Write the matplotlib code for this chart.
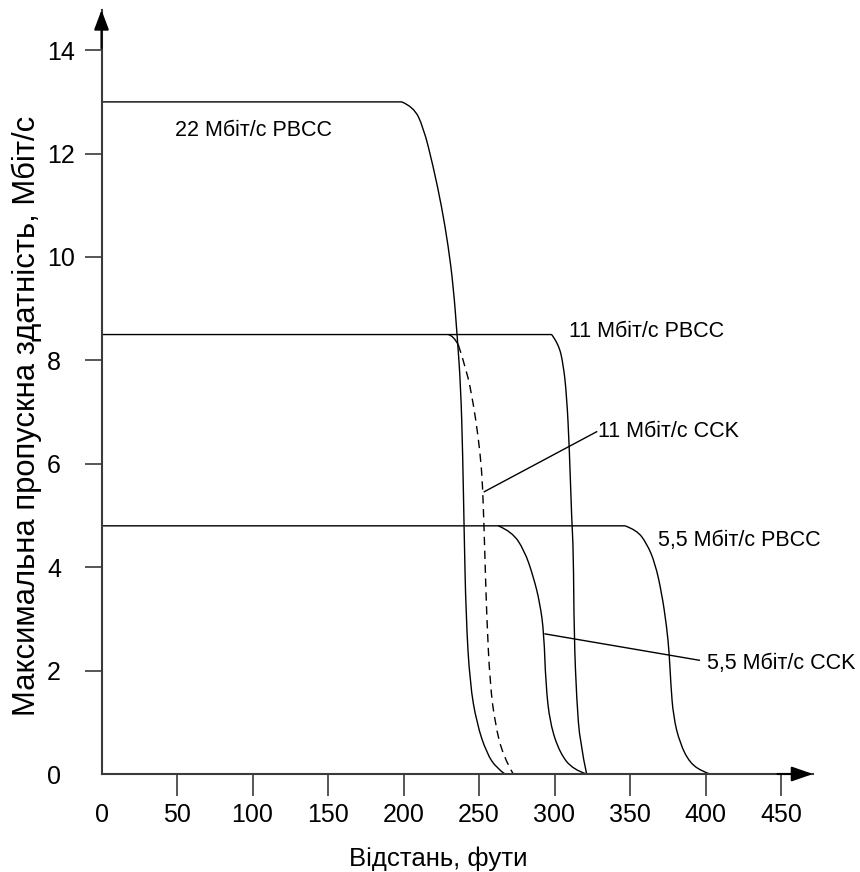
import matplotlib
matplotlib.use("Agg")
import matplotlib.pyplot as plt
from matplotlib.path import Path
from matplotlib.patches import PathPatch

plt.rcParams['font.family'] = ['Liberation Sans', 'DejaVu Sans']

# ---- data ----
x_ticks = [0, 50, 100, 150, 200, 250, 300, 350, 400, 450]
y_ticks = [0, 2, 4, 6, 8, 10, 12, 14]

pbcc22_x = [0, 198.8, 206.5, 213.1, 219.7, 225.3, 229.7, 233.0, 235.6, 237.9, 239.2, 240.1,
            241.4, 244.0, 248.5, 255.1, 261.7, 267.2]
pbcc22_y = [13.0, 13.0, 12.91, 12.52, 11.75, 10.97, 10.20, 9.43, 8.46, 7.49, 6.20, 4.78,
            3.04, 1.75, 0.98, 0.40, 0.11, 0.0]

pbcc11_x = [0, 298.1, 302.5, 305.8, 308.1, 309.8, 311.4, 312.5, 313.0, 314.7, 316.9, 321.3]
pbcc11_y = [8.5, 8.5, 8.33, 7.94, 7.30, 6.33, 4.91, 4.33, 2.66, 1.43, 0.59, 0.0]

cck11_x = [229.7, 233.0, 236.3, 241.9, 246.2, 249.5, 251.8, 252.8, 253.8, 255.1, 257.3, 260.6,
           266.1, 272.7]
cck11_y = [8.5, 8.48, 8.30, 7.81, 7.17, 6.52, 5.88, 5.24, 4.33, 3.04, 1.75, 0.98, 0.33, 0.0]

pbcc55_x = [0, 346.7, 354.4, 361.1, 366.6, 371.0, 374.3, 376.0, 377.0, 378.7, 383.1, 389.7,
            398.5, 403.0]
pbcc55_y = [4.8, 4.8, 4.72, 4.46, 4.08, 3.50, 2.85, 2.33, 1.75, 1.11, 0.59, 0.21, 0.04, 0.0]

cck55_x = [262.8, 271.7, 280.0, 286.0, 290.4, 293.0, 294.2, 297.0, 303.6, 312.5, 321.3]
cck55_y = [4.8, 4.69, 4.33, 3.82, 3.30, 2.72, 1.75, 0.98, 0.40, 0.08, 0.0]

labels = ["22 Мбіт/с PBCC", "11 Мбіт/с PBCC", "11 Мбіт/с CCK",
          "5,5 Мбіт/с PBCC", "5,5 Мбіт/с CCK"]
label_x = [48.7, 309.8, 329.0, 368.7, 401.2]
label_y = [12.34, 8.46, 6.51, 4.41, 2.04]

leader_cck11 = ([253.5, 327.9], [5.46, 6.62])
leader_cck55 = ([293.7, 395.9], [2.71, 2.20])

xlabel = "Відстань, фути"
ylabel = "Максимальна пропускна здатність, Мбіт/с"


def smooth_path(xs, ys, flat_start=False):
    """Quadratic-Bezier path using the read points as control points."""
    pts = list(zip(xs, ys))
    verts = [pts[0]]
    codes = [Path.MOVETO]
    if flat_start:
        verts.append(pts[1]); codes.append(Path.LINETO)
        pts = pts[1:]
    n = len(pts)
    if n == 2:
        verts.append(pts[1]); codes.append(Path.LINETO)
        return Path(verts, codes)
    for i in range(1, n - 1):
        ctrl = pts[i]
        if i < n - 2:
            end = ((pts[i][0] + pts[i + 1][0]) / 2, (pts[i][1] + pts[i + 1][1]) / 2)
        else:
            end = pts[n - 1]
        verts += [ctrl, end]
        codes += [Path.CURVE3, Path.CURVE3]
    return Path(verts, codes)


# ---- figure ----
W, H = 860, 872
fig = plt.figure(figsize=(W / 100, H / 100), dpi=100)
left, right_px, top_px, bottom_px = 101.5, 813, 10, 774
ax = fig.add_axes([left / W, (H - bottom_px) / H, (right_px - left) / W, (bottom_px - top_px) / H])

lw = 1.0


def draw(xs, ys, ls='-', flat_start=False):
    ax.add_patch(PathPatch(smooth_path(xs, ys, flat_start), facecolor='none',
                           edgecolor='black', lw=lw, linestyle=ls,
                           capstyle='butt', joinstyle='round'))


draw(pbcc22_x, pbcc22_y, flat_start=True)
draw(pbcc11_x, pbcc11_y, flat_start=True)
draw(cck11_x[:3], cck11_y[:3])
draw(cck11_x[2:], cck11_y[2:], ls=(0, (6, 4)))
draw(pbcc55_x, pbcc55_y, flat_start=True)
draw(cck55_x, cck55_y)
ax.plot(*leader_cck11, color='black', lw=lw)
ax.plot(*leader_cck55, color='black', lw=lw)

for t, lx, ly in zip(labels, label_x, label_y):
    ax.text(lx, ly, t, fontsize=15.5, ha='left', va='baseline', color='black')

ax.set_xlim(0, (right_px - left) / 1.51)
ax.set_ylim(0, (bottom_px - top_px) / 51.7)

spine_c = '#3a3a3a'
for s in ['top', 'right']:
    ax.spines[s].set_visible(False)
for s in ['left', 'bottom']:
    ax.spines[s].set_color(spine_c)
    ax.spines[s].set_linewidth(1.5)

ax.set_xticks(x_ticks)
ax.set_xticklabels([str(v) for v in x_ticks])
ax.set_yticks(y_ticks)
ax.set_yticklabels([str(v) for v in y_ticks])
ax.tick_params(axis='x', direction='out', length=16, width=1.2, color=spine_c,
               labelsize=18, pad=5)
ax.tick_params(axis='y', direction='out', length=12.5, width=1.2, color=spine_c,
               labelsize=18, pad=26.6)
for lab in ax.get_yticklabels():
    lab.set_horizontalalignment('left')
ax.xaxis.get_major_ticks()[0].tick1line.set_visible(False)
ax.yaxis.get_major_ticks()[0].tick1line.set_visible(False)

# axis arrows
ax.annotate('', xy=(1, 0), xytext=(0.95, 0), xycoords='axes fraction',
            arrowprops=dict(arrowstyle='-|>,head_length=1.3,head_width=0.45',
                            mutation_scale=10, color='black', lw=1.5,
                            shrinkA=0, shrinkB=0))
ax.annotate('', xy=(0, 1), xytext=(0, 0.95), xycoords='axes fraction',
            arrowprops=dict(arrowstyle='-|>,head_length=1.2,head_width=0.45',
                            mutation_scale=10, color='black', lw=1.5,
                            shrinkA=0, shrinkB=0))

fig.text(438.5 / W, (H - 866) / H, xlabel, fontsize=18.5, ha='center', va='baseline')
fig.text(27 / W, 1 - 416 / H, ylabel, fontsize=22.3, ha='center', va='center', rotation=90)

fig.savefig('out.png', dpi=100)
